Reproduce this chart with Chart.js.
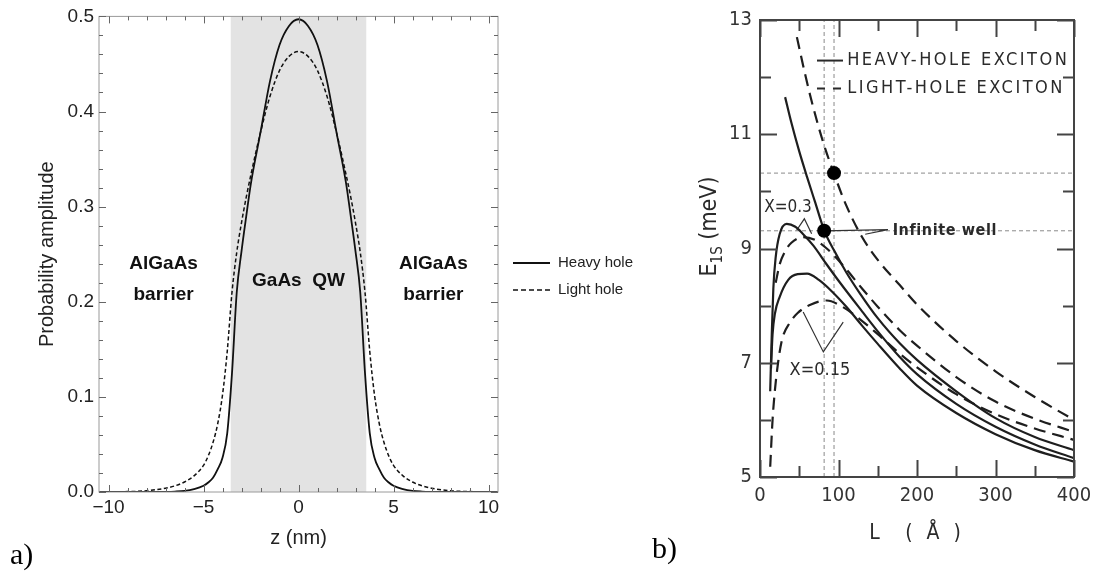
<!DOCTYPE html>
<html>
<head>
<meta charset="utf-8">
<script src="https://cdn.jsdelivr.net/npm/chart.js@4.4.1/dist/chart.umd.min.js"></script>
<style>
  html, body { margin: 0; padding: 0; background: #fff; }
  #wrap { position: relative; width: 1115px; height: 571px; overflow: hidden; }
  #ca { position: absolute; left: 0; top: 0; }
  #cb { position: absolute; left: 650px; top: 0; }
</style>
</head>
<body>
<div id="wrap">
  <canvas id="ca" width="640" height="571"></canvas>
  <canvas id="cb" width="465" height="571"></canvas>
</div>
<script>
// ---- panel a: probability amplitude across the quantum well ----
const zNm = [-10.5, -9, -8, -7, -6.5, -6, -5.5, -5, -4.75, -4.5, -4.25, -4, -3.75, -3.5, -3.25, -3, -2.75, -2.5, -2, -1.5, -1, -0.5,
  0, 0.5, 1, 1.5, 2, 2.5, 2.75, 3, 3.25, 3.5, 3.75, 4, 4.25, 4.5, 4.75, 5, 5.5, 6, 6.5, 7, 8, 9, 10.5]
const heavyHole = [0, 0, 0, 0.0002, 0.0005, 0.0012, 0.003, 0.0065, 0.010, 0.015, 0.024, 0.036, 0.062, 0.125, 0.21, 0.253, 0.29, 0.325, 0.378, 0.432, 0.470, 0.490,
  0.497, 0.490, 0.470, 0.432, 0.378, 0.325, 0.29, 0.253, 0.21, 0.125, 0.062, 0.036, 0.024, 0.015, 0.010, 0.0065, 0.003, 0.0012, 0.0005, 0.0002, 0, 0, 0]
const lightHole = [0, 0.0004, 0.0013, 0.004, 0.0065, 0.0105, 0.017, 0.028, 0.038, 0.052, 0.072, 0.102, 0.148, 0.21, 0.252, 0.283, 0.31, 0.334, 0.378, 0.416, 0.443, 0.458,
  0.463, 0.458, 0.443, 0.416, 0.378, 0.334, 0.31, 0.283, 0.252, 0.21, 0.148, 0.102, 0.072, 0.052, 0.038, 0.028, 0.017, 0.0105, 0.0065, 0.004, 0.0013, 0.0004, 0]
const wellEdges = [-3.58, 3.58]
const seriesNamesA = ['Heavy hole', 'Light hole']

// ---- panel b: exciton binding energy vs well width ----
const hhInfL = [32, 40, 50, 60, 70, 82, 95, 110, 127, 150, 178, 200, 250, 300, 350, 400]
const hhInfE = [11.65, 11.2, 10.7, 10.25, 9.82, 9.31, 8.95, 8.58, 8.22, 7.78, 7.34, 7.05, 6.5, 6.03, 5.7, 5.47]
const lhInfL = [47, 55, 65, 80, 94, 110, 130, 150, 178, 200, 250, 300, 350, 400]
const lhInfE = [12.7, 12.2, 11.62, 10.88, 10.32, 9.75, 9.2, 8.8, 8.36, 8.02, 7.38, 6.85, 6.4, 6.0]
const hh03L = [13, 15, 17, 20, 25, 34, 45, 55, 68, 85, 102, 130, 150, 178, 200, 250, 300, 350, 400]
const hh03E = [6.5, 7.5, 8.3, 8.85, 9.25, 9.43, 9.38, 9.25, 9.05, 8.72, 8.4, 7.9, 7.55, 7.1, 6.8, 6.28, 5.88, 5.57, 5.33]
const lh03L = [20, 25, 32, 40, 55, 70, 85, 106, 130, 150, 178, 200, 250, 300, 350, 400]
const lh03E = [8.4, 8.72, 8.95, 9.1, 9.2, 9.15, 9.0, 8.7, 8.3, 7.98, 7.57, 7.3, 6.75, 6.32, 6.02, 5.79]
const hh015L = [14, 16, 19, 25, 36, 48, 60, 75, 90, 110, 130, 150, 178, 200, 250, 300, 350, 400]
const hh015E = [6.9, 7.5, 7.86, 8.15, 8.45, 8.55, 8.56, 8.45, 8.27, 7.98, 7.65, 7.33, 6.9, 6.6, 6.12, 5.75, 5.47, 5.27]
const lh015L = [13, 16, 19, 23, 28, 38, 48, 65, 85, 105, 121, 150, 178, 200, 250, 300, 350, 400]
const lh015E = [5.18, 6.0, 6.52, 7.0, 7.4, 7.7, 7.87, 8.02, 8.09, 7.98, 7.83, 7.5, 7.16, 6.92, 6.45, 6.1, 5.85, 5.65]
const wellL = [81.7, 94.3]      // infinite-well widths (dotted verticals / dots)
const wellE = [9.31, 10.32]     // infinite-well energies (dashed horizontals / dots)
const ptr03L = [46.7, 56.5, 65.8], ptr03E = [9.32, 9.52, 9.26]
const ptr015L = [55, 80.7, 106], ptr015E = [7.89, 7.19, 7.71]
const ptrInfL = [81.7, 163, 134], ptrInfE = [9.31, 9.33, 9.25]
const seriesNamesB = ['HEAVY-HOLE EXCITON', 'LIGHT-HOLE EXCITON']

const fontA = '"Liberation Sans", Arial, sans-serif'
const fontB = '"DejaVu Sans Condensed", "DejaVu Sans", sans-serif'
const pts = (xs, ys) => xs.map((x, i) => ({x: x, y: ys[i]}))

function drawFrameTicks(chart, o) {
    const {ctx, chartArea: a, scales: {x, y}} = chart
    ctx.save()
    ctx.strokeStyle = o.frameColor
    ctx.lineWidth = o.frameWidth
    ctx.strokeRect(a.left, a.top, a.right - a.left, a.bottom - a.top)
    ctx.strokeStyle = o.tickColor
    ctx.lineWidth = o.tickWidth
    ctx.beginPath()
    const isMajor = (v, base, step) => Math.abs((v - base) / step - Math.round((v - base) / step)) < 1e-6
    for (let i = Math.ceil(x.min / o.xMinor - 1e-9); i * o.xMinor <= x.max + 1e-9; i++) {
        const v = i * o.xMinor, px = Math.round(x.getPixelForValue(v)) + 0.5
        const len = isMajor(v, 0, o.xMajor) ? o.major : o.minor
        ctx.moveTo(px, a.bottom); ctx.lineTo(px, a.bottom - len)
        ctx.moveTo(px, a.top); ctx.lineTo(px, a.top + len)
    }
    for (let i = Math.ceil(y.min / o.yMinor - 1e-9); i * o.yMinor <= y.max + 1e-9; i++) {
        const v = i * o.yMinor, py = Math.round(y.getPixelForValue(v)) + 0.5
        const len = isMajor(v, o.yBase, o.yMajor) ? o.major : o.minor
        ctx.moveTo(a.left, py); ctx.lineTo(a.left + len, py)
        ctx.moveTo(a.right, py); ctx.lineTo(a.right - len, py)
    }
    ctx.stroke()
    ctx.restore()
}

// ---------- chart a ----------
const panelA = {
    id: 'panelA',
    afterDraw(chart) {
        const {ctx, chartArea: a, scales: {x, y}} = chart
        drawFrameTicks(chart, {frameColor: '#9a9a9a', frameWidth: 1, tickColor: '#666', tickWidth: 1,
            xMinor: 1, xMajor: 5, yMinor: 0.02, yMajor: 0.1, yBase: 0, major: 7, minor: 4})
        ctx.save()
        ctx.fillStyle = '#111'
        ctx.textAlign = 'center'
        ctx.textBaseline = 'middle'
        ctx.font = 'bold 19px ' + fontA
        ;[[-7.1, 0.2395, 'AlGaAs'], [-7.1, 0.207, 'barrier'], [0, 0.222, 'GaAs  QW'],
          [7.1, 0.2395, 'AlGaAs'], [7.1, 0.207, 'barrier']].forEach(t => {
            ctx.fillText(t[2], x.getPixelForValue(t[0]), y.getPixelForValue(t[1]))
        })
        // legend
        ctx.textAlign = 'left'
        ctx.font = '15px ' + fontA
        chart.data.datasets.slice(0, 2).forEach((ds, i) => {
            const ly = 263 + i * 27
            ctx.strokeStyle = ds.borderColor
            ctx.lineWidth = ds.borderWidth
            ctx.setLineDash(i ? [5, 3] : [])
            ctx.beginPath(); ctx.moveTo(a.right + 15, ly); ctx.lineTo(a.right + 52, ly); ctx.stroke()
            ctx.fillStyle = '#222'
            ctx.fillText(ds.label, a.right + 60, ly)
        })
        ctx.font = '30px "Liberation Serif", serif'
        ctx.fillStyle = '#000'
        ctx.textBaseline = 'alphabetic'
        ctx.fillText('a)', 10, 564)
        ctx.restore()
    }
}

new Chart(document.getElementById('ca'), {
    type: 'line',
    data: {
        datasets: [
            {label: seriesNamesA[0], data: pts(zNm, heavyHole), borderColor: '#111', borderWidth: 1.8,
                cubicInterpolationMode: 'monotone'},
            {label: seriesNamesA[1], data: pts(zNm, lightHole), borderColor: '#111', borderWidth: 1.5,
                borderDash: [4, 2.5], cubicInterpolationMode: 'monotone'},
            {label: 'GaAs QW', data: pts(wellEdges, [0.5, 0.5]), borderWidth: 0,
                backgroundColor: '#e3e3e3', fill: 'origin'}
        ]
    },
    options: {
        responsive: false,
        animation: false,
        events: [],
        layout: {padding: {left: 0, top: 14, right: 142, bottom: 14}},
        elements: {point: {radius: 0}},
        plugins: {legend: {display: false}, tooltip: {enabled: false}},
        scales: {
            x: {
                type: 'linear', min: -10.5, max: 10.5,
                afterFit: s => { s.height = 65 },
                grid: {display: false, drawTicks: false},
                border: {display: false},
                ticks: {stepSize: 5, includeBounds: false, padding: 4, color: '#222',
                    font: {family: fontA, size: 19},
                    callback: v => String(v).replace('-', '\u2212')},
                title: {display: true, text: 'z (nm)', color: '#222', font: {family: fontA, size: 20},
                    padding: {top: 0, bottom: 7}}
            },
            y: {
                type: 'linear', min: 0, max: 0.5,
                afterFit: s => { s.width = 99 },
                grid: {display: false, drawTicks: false},
                border: {display: false},
                ticks: {stepSize: 0.1, padding: 5, color: '#222', font: {family: fontA, size: 19},
                    callback: v => v.toFixed(1)},
                title: {display: true, text: 'Probability amplitude', color: '#222',
                    font: {family: fontA, size: 20}, padding: {top: 35, bottom: 0}}
            }
        }
    },
    plugins: [panelA]
})

// ---------- chart b ----------
const panelB = {
    id: 'panelB',
    afterDraw(chart) {
        const {ctx, chartArea: a, scales: {x, y}} = chart
        drawFrameTicks(chart, {frameColor: '#444', frameWidth: 2, tickColor: '#444', tickWidth: 2,
            xMinor: 50, xMajor: 100, yMinor: 1, yMajor: 2, yBase: 5, major: 17, minor: 11})
        ctx.save()
        ctx.fillStyle = '#2a2a2a'
        ctx.strokeStyle = '#2a2a2a'
        // y title with subscript
        ctx.translate(a.left - 53, (a.top + a.bottom) / 2 - 22)
        ctx.rotate(-Math.PI / 2)
        ctx.textBaseline = 'alphabetic'
        const big = '23px ' + fontB, small = '15px ' + fontB
        ctx.font = big; const wE = ctx.measureText('E').width, wU = ctx.measureText(' (meV)').width
        ctx.font = small; const wS = ctx.measureText('1S').width
        let tx = -(wE + wS + wU) / 2
        ctx.font = big; ctx.fillText('E', tx, 9); tx += wE
        ctx.font = small; ctx.fillText('1S', tx, 15); tx += wS
        ctx.font = big; ctx.fillText(' (meV)', tx, 9)
        ctx.setTransform(1, 0, 0, 1, 0, 0)
        // x title
        ctx.font = '21px ' + fontB
        ctx.textAlign = 'center'
        ctx.textBaseline = 'middle'
        ctx.fillText('L', x.getPixelForValue(146), a.bottom + 57)
        ctx.letterSpacing = '4px'
        ctx.fillText('( \u00c5 )', x.getPixelForValue(223), a.bottom + 57)
        // legend
        ctx.font = '18px ' + fontB
        ctx.textAlign = 'left'
        ctx.letterSpacing = '2.5px'
        ctx.lineWidth = 2
        seriesNamesB.forEach((name, i) => {
            const ly = y.getPixelForValue(12.29 - i * 0.49)
            ctx.setLineDash(i ? [8, 8] : [])
            ctx.beginPath(); ctx.moveTo(x.getPixelForValue(72.6), ly); ctx.lineTo(x.getPixelForValue(105.7), ly); ctx.stroke()
            ctx.fillText(name, x.getPixelForValue(111), ly)
        })
        ctx.setLineDash([])
        ctx.letterSpacing = '0px'
        ctx.font = '17px ' + fontB
        ctx.textAlign = 'center'
        ctx.fillText('X=0.3', x.getPixelForValue(35.7), y.getPixelForValue(9.71))
        ctx.font = '18px ' + fontB
        ctx.fillText('X=0.15', x.getPixelForValue(76.4), y.getPixelForValue(6.87))
        ctx.font = 'bold 16px ' + fontB
        ctx.textAlign = 'left'
        ctx.letterSpacing = '0.6px'
        ctx.fillText('Infinite well', x.getPixelForValue(169), y.getPixelForValue(9.31))
        ctx.letterSpacing = '0px'
        ctx.font = '30px "Liberation Serif", serif'
        ctx.fillStyle = '#000'
        ctx.textBaseline = 'alphabetic'
        ctx.fillText('b)', 2, 558)
        ctx.restore()
    }
}

const curve = (data, dashed) => ({data: data, borderColor: '#1e1e1e', borderWidth: 2.2,
    borderDash: dashed ? [12, 7] : [], cubicInterpolationMode: 'monotone'})
const refLine = data => ({data: data, borderColor: '#8a8a8a', borderWidth: 1, borderDash: [4, 3], tension: 0})
const pointer = data => ({data: data, borderColor: '#333', borderWidth: 1.2, tension: 0})

new Chart(document.getElementById('cb'), {
    type: 'line',
    data: {
        datasets: [
            {data: pts(wellL, wellE), showLine: false, pointRadius: 7, pointBackgroundColor: '#000',
                pointBorderColor: '#000', pointBorderWidth: 0},
            curve(pts(hhInfL, hhInfE), false),
            curve(pts(lhInfL, lhInfE), true),
            curve(pts(hh03L, hh03E), false),
            curve(pts(lh03L, lh03E), true),
            curve(pts(hh015L, hh015E), false),
            curve(pts(lh015L, lh015E), true),
            pointer(pts(ptr03L, ptr03E)),
            pointer(pts(ptr015L, ptr015E)),
            pointer(pts(ptrInfL, ptrInfE)),
            refLine(pts([0, 400], [wellE[0], wellE[0]])),
            refLine(pts([0, 400], [wellE[1], wellE[1]])),
            refLine(pts([wellL[0], wellL[0]], [5, 13])),
            refLine(pts([wellL[1], wellL[1]], [5, 13]))
        ]
    },
    options: {
        responsive: false,
        animation: false,
        events: [],
        layout: {padding: {left: 0, top: 19, right: 41, bottom: 14}},
        elements: {point: {radius: 0}},
        plugins: {legend: {display: false}, tooltip: {enabled: false}},
        scales: {
            x: {
                type: 'linear', min: 0, max: 400,
                afterFit: s => { s.height = 80 },
                grid: {display: false, drawTicks: false},
                border: {display: false},
                ticks: {stepSize: 100, padding: 7, color: '#333', font: {family: fontB, size: 20}}
            },
            y: {
                type: 'linear', min: 5, max: 13,
                afterFit: s => { s.width = 110 },
                grid: {display: false, drawTicks: false},
                border: {display: false},
                ticks: {stepSize: 2, padding: 8, color: '#333', font: {family: fontB, size: 20}}
            }
        }
    },
    plugins: [panelB]
})
</script>
</body>
</html>
